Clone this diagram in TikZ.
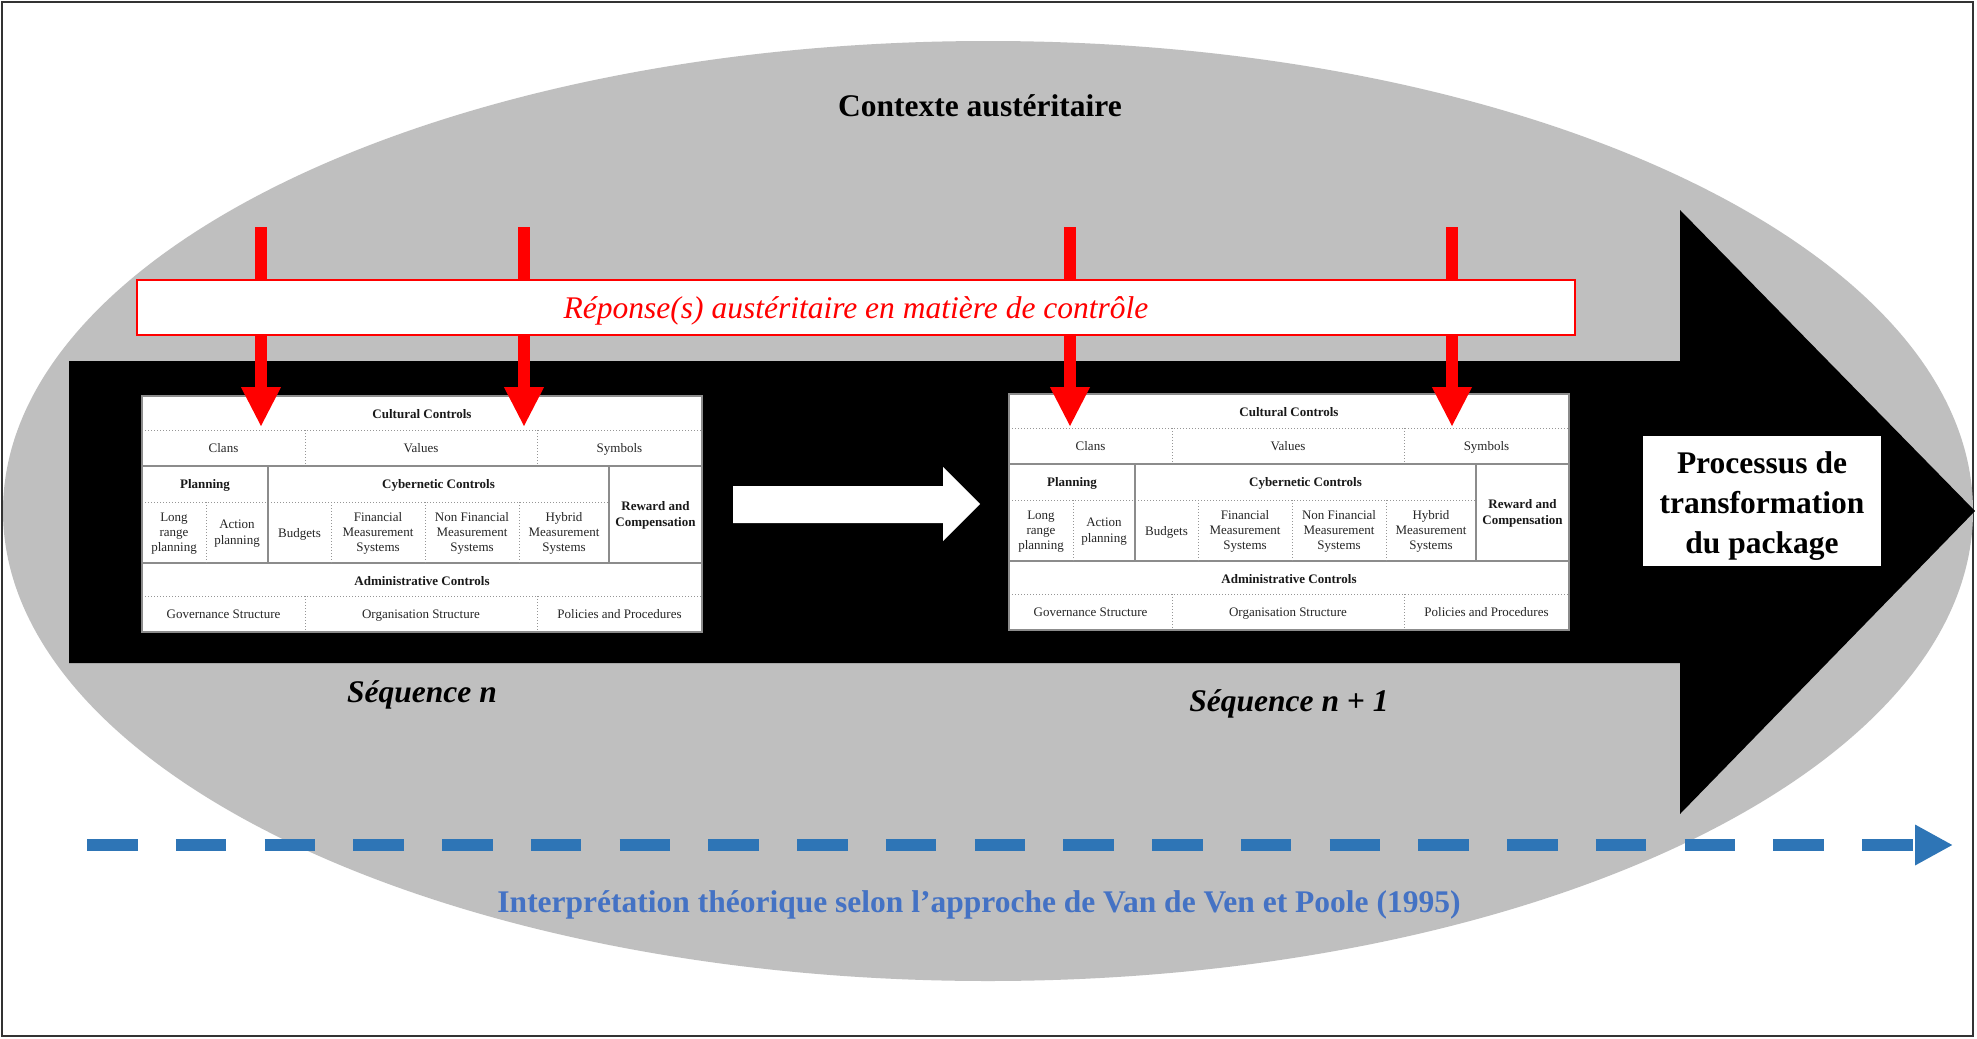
\documentclass[tikz,border=0pt]{standalone}
\usepackage{fontspec}
\setmainfont{Liberation Serif}
\usetikzlibrary{arrows.meta}
\definecolor{ellgray}{RGB}{191,191,191}
\definecolor{linegray}{RGB}{140,140,140}
\definecolor{dotgray}{RGB}{150,150,150}
\definecolor{redc}{RGB}{255,0,0}
\definecolor{bluedashc}{RGB}{46,117,182}
\definecolor{bluetextc}{RGB}{68,114,196}
\newcommand\bigfont{\fontsize{15.75}{19.9}\selectfont}
\newcommand\tabfont{\fontsize{6.5}{7.65}\selectfont}
\tikzset{
  tabtxt/.style={font=\tabfont, align=center, inner sep=0pt, text=black!85},
  tabone/.style={font=\tabfont, inner sep=0pt, text=black!85, text height=4.6pt, text depth=1.4pt},
  tabbold/.style={font=\tabfont\bfseries, align=center, inner sep=0pt, text=black!90},
  solidln/.style={draw=linegray, line width=0.6pt},
  dotln/.style={draw=dotgray, line width=0.5pt, dash pattern=on 0.5pt off 1pt},
  redarrow/.style={draw=redc, line width=6pt, -{Triangle[width=18.5pt,length=20pt]}},
  bigtxt/.style={font=\bigfont\bfseries, inner sep=0pt},
  bluearrow/.style={draw=bluedashc, line width=6.15pt, dash pattern=on 25.25pt off 19.125pt, -{Triangle[width=19pt,length=19pt]}}
}
\newcommand\mcstable[3]{%
\begin{scope}[shift={(#1,#2)}]
  \fill[white] (0,0) rectangle (560,236);
  \draw[solidln] (0,70) -- (560,70);
  \draw[solidln] (0,167) -- (560,167);
  \draw[dotln] (0,34) -- (560,34);
  \draw[dotln] (0,106) -- (467,106);
  \draw[dotln] (0,200) -- (560,200);
  \draw[dotln] (163,34) -- (163,70);
  \draw[dotln] (395,34) -- (395,70);
  \draw[dotln] (163,200) -- (163,236);
  \draw[dotln] (395,200) -- (395,236);
  \draw[solidln] (126,70) -- (126,167);
  \draw[solidln] (467,70) -- (467,167);
  \foreach \xx in {64,189,283,377} \draw[dotln] (\xx,106) -- (\xx,167);
  \draw[draw=linegray, line width=0.9pt] (0,0) rectangle (560,236);
  \node[tabbold] (#3-cult) at (280,18.5) {Cultural Controls};
  \node[tabone] (#3-clans) at (81.5,53) {Clans};
  \node[tabone] (#3-values) at (279,53) {Values};
  \node[tabone] (#3-symb) at (477.5,53) {Symbols};
  \node[tabbold] (#3-plan) at (63,89) {Planning};
  \node[tabbold] (#3-cyb) at (296.5,89) {Cybernetic Controls};
  \node[tabbold] (#3-rew) at (513.5,119.5) {Reward and\\Compensation};
  \node[tabtxt] (#3-long) at (32,137.5) {Long\\range\\planning};
  \node[tabtxt] (#3-act) at (95,137.5) {Action\\planning};
  \node[tabone] (#3-bud) at (157.5,138) {Budgets};
  \node[tabtxt] (#3-fin) at (236,137.5) {Financial\\Measurement\\Systems};
  \node[tabtxt] (#3-nfin) at (330,137.5) {Non Financial\\Measurement\\Systems};
  \node[tabtxt] (#3-hyb) at (422,137.5) {Hybrid\\Measurement\\Systems};
  \node[tabbold] (#3-adm) at (280,185) {Administrative Controls};
  \node[tabone] (#3-gov) at (81.5,219) {Governance Structure};
  \node[tabone] (#3-org) at (279,219) {Organisation Structure};
  \node[tabone] (#3-pol) at (477.5,219) {Policies and Procedures};
\end{scope}}
\begin{document}
\begin{tikzpicture}[x=0.5pt,y=-0.5pt]
\useasboundingbox (0,0) rectangle (1977,1039);
\fill[white] (0,0) rectangle (1977,1039);
\draw[line width=1.2pt, draw=black!80] (2,2) rectangle (1973,1036);
% context ellipse
\fill[ellgray] (988,511) ellipse [x radius=492.5pt, y radius=235pt];
% big black process arrow
\fill[black] (69,361) -- (1680,361) -- (1680,210) -- (1975,511) -- (1680,814) -- (1680,663) -- (69,663) -- cycle;
% tables
\mcstable{142}{396}{A}
\mcstable{1009}{394}{B}
% red arrows
\coordinate (ra1) at (261,227); \coordinate (rb1) at (261,427);
\coordinate (ra2) at (524,227); \coordinate (rb2) at (524,427);
\coordinate (ra3) at (1070,227); \coordinate (rb3) at (1070,427);
\coordinate (ra4) at (1452,227); \coordinate (rb4) at (1452,427);
\draw[redarrow] (ra1) -- (rb1);
\draw[redarrow] (ra2) -- (rb2);
\draw[redarrow] (ra3) -- (rb3);
\draw[redarrow] (ra4) -- (rb4);
\node[draw=redc, line width=1.1pt, fill=white, minimum width=719pt, minimum height=27.5pt, inner sep=0pt] (rbox) at (856,307.5) {};
\node[font=\bigfont\itshape, text=redc, inner sep=0pt] (rtext) at (856,310.5) {Réponse(s) austéritaire en matière de contrôle};
% white arrow between sequences
\fill[white] (733,486) -- (943,486) -- (943,467) -- (980,504) -- (943,541) -- (943,523) -- (733,523) -- cycle;
% texts
\node[bigtxt] (ctx) at (980,105.5) {Contexte austéritaire};
\node[fill=white, minimum width=119pt, minimum height=65pt, inner sep=0pt] (procbox) at (1762,501) {};
\node[align=center, font=\bigfont\bfseries, inner sep=0pt] (proc) at (1762,506) {Processus de\\transformation\\du package};
\node[font=\bigfont\bfseries\itshape, inner sep=0pt] (seq1) at (422,695) {Séquence n};
\node[font=\bigfont\bfseries\itshape, inner sep=0pt] (seq2) at (1289,704) {Séquence n + 1};
% blue dashed arrow
\coordinate (bs) at (87,845);
\coordinate (be) at (1953,845);
\draw[bluearrow] (bs) -- (be);
\node[bigtxt, text=bluetextc] (interp) at (979,905) {Interprétation théorique selon l’approche de Van de Ven et Poole (1995)};
\end{tikzpicture}
\end{document}
